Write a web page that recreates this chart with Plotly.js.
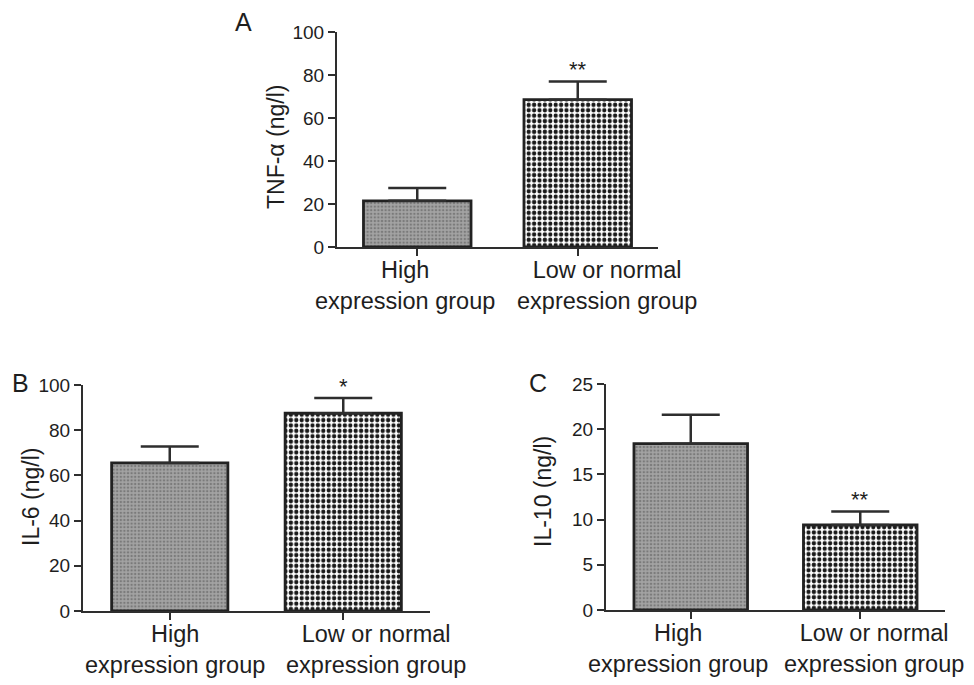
<!DOCTYPE html>
<html>
<head>
<meta charset="utf-8">
<script src="https://cdn.plot.ly/plotly-3.0.1.min.js"></script>
<style>html,body{margin:0;padding:0;background:#fff;}#chart{width:974px;height:685px;}</style>
</head>
<body>
<div id="chart"></div>
<script>
// ---- data ----
var categories = ["High<br>expression group", "Low or normal<br>expression group"];
var tnfMean = [21.5, 68.5];
var tnfUpper = [27.5, 77.0];
var il6Mean = [65.5, 87.5];
var il6Upper = [72.8, 94.3];
var il10Mean = [18.4, 9.4];
var il10Upper = [21.6, 10.9];
var tnfSig = ["", "**"];
var il6Sig = ["", "*"];
var il10Sig = ["", "**"];
var panelLetters = ["A", "B", "C"];
var yTitles = ["TNF-α (ng/l)", "IL-6 (ng/l)", "IL-10 (ng/l)"];
var yTickVals = [[0, 20, 40, 60, 80, 100], [0, 20, 40, 60, 80, 100], [0, 5, 10, 15, 20, 25]];
var yRanges = [[0, 100], [0, 100], [0, 25]];

var FONT = "Liberation Sans, Arial, Helvetica, sans-serif";
var TXT = "#1e1e1e";
var LINE = "#2e2e2e";

// fill style per group (High, Low)
var fills = [
  { bg: "#a3a3a3", fg: "#7a7a7a", size: 3.6, sol: 0.35 },
  { bg: "#ffffff", fg: "#1a1a1a", size: 5.4, sol: 0.5 }
];

var traces = [];
function addPanel(means, uppers, xa, ya) {
  means.forEach(function (m, i) {
    traces.push({
      type: "bar",
      x: [i],
      y: [m],
      xaxis: xa, yaxis: ya,
      width: 0.67,
      marker: {
        color: fills[i].bg,
        line: { color: "#222", width: 2.8 },
        pattern: {
          shape: ".",
          bgcolor: fills[i].bg,
          fgcolor: fills[i].fg,
          size: fills[i].size,
          solidity: fills[i].sol,
          fillmode: "replace"
        }
      },
      error_y: {
        type: "data", symmetric: false,
        array: [uppers[i] - m],
        arrayminus: [0],
        color: LINE, thickness: 2.5, width: 29
      },
      hoverinfo: "skip",
      showlegend: false
    });
  });
}
addPanel(tnfMean, tnfUpper, "x", "y");
addPanel(il6Mean, il6Upper, "x2", "y2");
addPanel(il10Mean, il10Upper, "x3", "y3");

// pixel layout of each panel: [left, right, top, bottom] and category-label centres
var panels = [
  { l: 337, r: 658, t: 32, b: 247, lab: [405, 607] },
  { l: 83, r: 430, t: 385, b: 611, lab: [175, 376] },
  { l: 606, r: 945, t: 384, b: 610, lab: [678, 874] }
];
var W = 974, H = 685;

function xAxis(p, anchor) {
  return {
    domain: [p.l / W, p.r / W], anchor: anchor, range: [-0.5, 1.5],
    tickmode: "array", tickvals: [0, 1], showticklabels: false,
    ticks: "outside", ticklen: 7, tickwidth: 2, tickcolor: LINE,
    showline: true, linecolor: LINE, linewidth: 2,
    showgrid: false, zeroline: false, fixedrange: true
  };
}
function yAxis(p, anchor, idx) {
  return {
    domain: [1 - p.b / H, 1 - p.t / H], anchor: anchor, range: yRanges[idx],
    tickmode: "array", tickvals: yTickVals[idx],
    ticks: "outside", ticklen: 7, tickwidth: 2, tickcolor: LINE,
    showline: true, linecolor: LINE, linewidth: 2,
    showgrid: false, zeroline: false, fixedrange: true,
    tickfont: { family: FONT, size: 19, color: TXT }
  };
}

var annotations = [];
function addSig(sig, uppers, xr, yr, off) {
  sig.forEach(function (s, i) {
    if (!s) return;
    annotations.push({ x: i, y: uppers[i], xref: xr, yref: yr, text: s, showarrow: false,
      yanchor: "bottom", yshift: off, font: { family: FONT, size: 22, color: TXT } });
  });
}
addSig(tnfSig, tnfUpper, "x", "y", -3);
addSig(il6Sig, il6Upper, "x2", "y2", -3);
addSig(il10Sig, il10Upper, "x3", "y3", -3);

// category labels under each panel (set slightly apart, as in the reference)
panels.forEach(function (p) {
  categories.forEach(function (c, i) {
    annotations.push({ x: p.lab[i] / W, y: 1 - (p.b + 8) / H, xref: "paper", yref: "paper",
      text: c, showarrow: false, xanchor: "center", yanchor: "top", align: "center",
      font: { family: FONT, size: 23.5, color: TXT } });
  });
});

var letterPos = [[243, 22], [20, 383], [538, 383]];
panelLetters.forEach(function (L, i) {
  annotations.push({ x: letterPos[i][0] / W, y: 1 - letterPos[i][1] / H, xref: "paper", yref: "paper",
    text: L, showarrow: false, xanchor: "center", yanchor: "middle",
    font: { family: FONT, size: 25, color: TXT } });
});

// y-axis titles (rotated), centred where the reference has them
var titlePos = [[276, 147], [31, 497], [543, 492]];
yTitles.forEach(function (t, i) {
  annotations.push({ x: titlePos[i][0] / W, y: 1 - titlePos[i][1] / H, xref: "paper", yref: "paper",
    text: t, textangle: -90, showarrow: false, xanchor: "center", yanchor: "middle",
    font: { family: FONT, size: 23, color: TXT } });
});

var layout = {
  width: W, height: H,
  margin: { l: 0, r: 0, t: 0, b: 0 },
  barmode: "overlay",
  paper_bgcolor: "#ffffff", plot_bgcolor: "rgba(0,0,0,0)",
  xaxis: xAxis(panels[0], "y"),
  yaxis: yAxis(panels[0], "x", 0),
  xaxis2: xAxis(panels[1], "y2"),
  yaxis2: yAxis(panels[1], "x2", 1),
  xaxis3: xAxis(panels[2], "y3"),
  yaxis3: yAxis(panels[2], "x3", 2),
  annotations: annotations,
  showlegend: false
};

Plotly.newPlot("chart", traces, layout, { displayModeBar: false, staticPlot: true });
</script>
</body>
</html>
